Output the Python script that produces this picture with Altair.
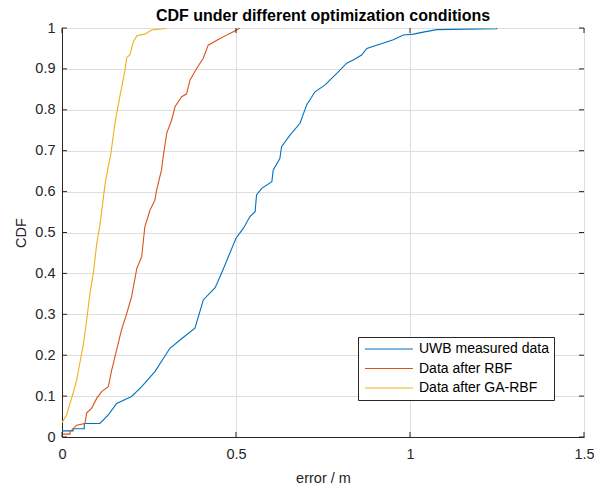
import altair as alt
import pandas as pd

# ---- data ----
uwb_x = [0, 0.032, 0.032, 0.064, 0.064, 0.109, 0.133, 0.157, 0.2, 0.229, 0.267, 0.31, 0.349, 0.382,
         0.406, 0.44, 0.454, 0.468, 0.5, 0.521, 0.54, 0.555, 0.559, 0.574, 0.603, 0.607, 0.626,
         0.631, 0.655, 0.684, 0.703, 0.727, 0.756, 0.78, 0.794, 0.818, 0.837, 0.861, 0.876, 0.904,
         0.933, 0.952, 0.981, 1.01, 1.038, 1.077, 1.249, 1.25]
uwb_y = [0.015, 0.015, 0.02, 0.02, 0.033, 0.033, 0.054, 0.082, 0.099, 0.123, 0.16, 0.217, 0.244, 0.266,
         0.335, 0.365, 0.392, 0.42, 0.486, 0.51, 0.539, 0.551, 0.592, 0.608, 0.624, 0.653, 0.681,
         0.71, 0.738, 0.767, 0.812, 0.844, 0.861, 0.881, 0.893, 0.914, 0.922, 0.934, 0.95, 0.958,
         0.966, 0.971, 0.983, 0.985, 0.99, 0.996, 0.998, 1.0]

rbf_x = [0, 0.023, 0.023, 0.042, 0.066, 0.071, 0.085, 0.1, 0.114, 0.133, 0.143, 0.157, 0.171, 0.186,
         0.2, 0.215, 0.229, 0.238, 0.253, 0.267, 0.272, 0.286, 0.29, 0.301, 0.315, 0.325, 0.344,
         0.358, 0.368, 0.387, 0.406, 0.42, 0.449, 0.478, 0.502, 0.511]
rbf_y = [0.007, 0.007, 0.013, 0.029, 0.033, 0.059, 0.07, 0.095, 0.111, 0.123, 0.164, 0.213, 0.262, 0.302,
         0.343, 0.412, 0.441, 0.514, 0.555, 0.579, 0.604, 0.653, 0.681, 0.743, 0.775, 0.808, 0.832,
         0.839, 0.873, 0.901, 0.926, 0.958, 0.972, 0.985, 0.995, 1.0]

ga_x = [0, 0.013, 0.023, 0.032, 0.042, 0.052, 0.061, 0.071, 0.08, 0.09, 0.1, 0.109, 0.124, 0.133,
        0.14, 0.152, 0.167, 0.181, 0.186, 0.195, 0.205, 0.215, 0.238, 0.258, 0.291, 0.3]
ga_y = [0.035, 0.054, 0.082, 0.107, 0.139, 0.184, 0.225, 0.286, 0.35, 0.4, 0.474, 0.518, 0.62, 0.661,
        0.69, 0.767, 0.836, 0.897, 0.928, 0.934, 0.966, 0.981, 0.985, 0.995, 0.998, 1.0]

series_names = ["UWB measured data", "Data after RBF", "Data after GA-RBF"]
series_colors = ["#0072BD", "#D95319", "#EDB120"]
x_ticks = [0, 0.5, 1, 1.5]
y_ticks = [0, 0.1, 0.2, 0.3, 0.4, 0.5, 0.6, 0.7, 0.8, 0.9, 1.0]

rows = []
for name, xs, ys in zip(series_names, [uwb_x, rbf_x, ga_x], [uwb_y, rbf_y, ga_y]):
    for i, (a, b) in enumerate(zip(xs, ys)):
        rows.append({"series": name, "x": a, "y": b, "order": i})
df = pd.DataFrame(rows)

W, H = 522, 409
FONT = "Liberation Sans"
xscale = alt.Scale(domain=[0, 1.5], nice=False)
yscale = alt.Scale(domain=[0, 1], nice=False)

lines = alt.Chart(df).mark_line(strokeWidth=1.1, clip=True).encode(
    x=alt.X("x:Q", scale=xscale,
            axis=alt.Axis(values=x_ticks, title="error / m", ticks=False, labelFlush=False,
                          labelExpr="format(datum.value, '~g')", labelPadding=10,
                          titlePadding=11)),
    y=alt.Y("y:Q", scale=yscale,
            axis=alt.Axis(values=y_ticks, title="CDF", ticks=False,
                          labelExpr="format(datum.value, '~g')", labelPadding=7,
                          titlePadding=6)),
    color=alt.Color("series:N", scale=alt.Scale(domain=series_names, range=series_colors),
                    sort=series_names,
                    legend=alt.Legend(title=None, orient="none", legendX=296, legendY=309,
                                      symbolType="M-1,0H8.6", symbolSize=100,
                                      symbolStrokeWidth=1.2, labelFontSize=14, labelFont=FONT,
                                      labelColor="#000000", strokeColor="#262626",
                                      fillColor="white", padding=5, rowPadding=5.5,
                                      labelOffset=42)),
    order="order:Q",
)

xt = pd.DataFrame({"t": x_ticks})
yt = pd.DataFrame({"t": y_ticks})
tick_color = "#262626"
xb = alt.Chart(xt).mark_rule(color=tick_color).encode(
    x=alt.X("t:Q", scale=xscale), y=alt.value(H), y2=alt.value(H - 5))
xtop = alt.Chart(xt).mark_rule(color=tick_color).encode(
    x=alt.X("t:Q", scale=xscale), y=alt.value(0), y2=alt.value(5))
yl = alt.Chart(yt).mark_rule(color=tick_color).encode(
    y=alt.Y("t:Q", scale=yscale), x=alt.value(0), x2=alt.value(5))
yr = alt.Chart(yt).mark_rule(color=tick_color).encode(
    y=alt.Y("t:Q", scale=yscale), x=alt.value(W), x2=alt.value(W - 5))

chart = alt.layer(lines, xb, xtop, yl, yr).properties(
    width=W, height=H,
    title=alt.Title("CDF under different optimization conditions", fontSize=16,
                    fontWeight="bold", font=FONT, color="#000000", offset=5, frame="group",
                    dy=9),
    autosize=alt.AutoSizeParams(type="none"),
    padding={"left": 54, "top": 20, "right": 10, "bottom": 50},
).configure_view(
    stroke=tick_color, strokeWidth=1
).configure_axis(
    labelFont=FONT, titleFont=FONT, labelFontSize=14.5, titleFontSize=14.5,
    labelColor="#262626", titleColor="#262626", titleFontWeight="normal",
    domainColor=tick_color, gridColor="#dedede", gridWidth=1,
)

chart.save("out.html", embed_options={"renderer": "svg", "actions": False})
